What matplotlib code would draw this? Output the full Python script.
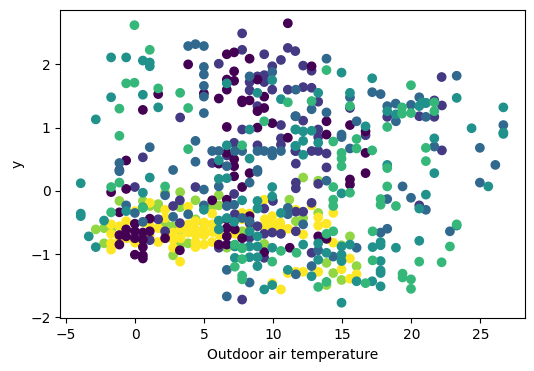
import matplotlib
matplotlib.use("Agg")
import matplotlib.pyplot as plt
import numpy as np

# one (x, y) list per colour level of the third variable
level_0 = [(11.06,2.65),(6.64,2.16),(7.17,2.19),(8.29,2.09),(3.84,2.00),(7.17,1.89),(6.64,1.76),(7.17,1.74),(6.64,1.60),(8.86,1.76),
(1.67,1.53),(4.98,1.54),(6.06,1.46),(9.35,1.49),(7.75,1.43),(8.29,1.43),(7.75,1.40),(0.56,1.28),(8.86,1.26),(9.35,1.31),
(6.64,1.01),(8.86,1.00),(9.93,1.07),(11.06,0.84),(6.64,0.60),(-0.65,0.48),(7.17,0.50),(6.06,0.43),(7.17,0.39),(12.78,1.97),
(13.86,1.10),(13.86,0.89),(15.56,1.04),(16.69,0.94),(16.69,0.60),(16.69,0.28),(15.56,0.18),(15.56,0.10),(13.26,-0.72),(13.86,-0.76),
(11.2,-0.90),(-1.74,-0.02),(-0.65,0.03),(-1.14,-0.34),(1.06,-0.44),(-0.02,-0.52),(-0.65,-0.61),(-1.14,-0.70),(-0.65,-0.72),(-1.14,-0.85),
(-0.02,-0.64),(-0.02,-0.75),(0.56,-0.66),(1.06,-0.64),(0.56,-0.77),(0.56,-0.89),(-0.02,-1.01),(0.56,-1.02),(0.56,-1.07),(2.17,-0.75),
(3.24,-0.94),(5.58,-0.15),(6.64,-0.14),(7.75,0.06),(8.29,0.28),(7.17,0.23),(6.64,-0.45),(6.64,-0.59),(6.64,-0.72),(7.22,-0.61),
(6.06,-0.85),(6.64,-0.85),(7.75,-0.75),(9.35,-0.97),(8.29,-0.40)]
level_1 = [(7.75,2.49),(7.75,2.23),(9.35,2.16),(11.06,2.26),(11.6,2.21),(6.06,2.01),(10.56,2.07),(9.93,1.97),(8.86,1.81),(9.35,1.83),
(9.35,1.72),(8.29,1.72),(8.29,1.59),(9.93,1.60),(11.06,1.60),(8.86,1.34),(3.26,1.16),(7.75,0.97),(10.56,1.04),(10.56,0.83),
(10.56,0.73),(7.17,0.76),(8.86,0.72),(6.64,0.56),(0.56,0.53),(5.58,0.44),(11.6,0.63),(-1.14,0.33),(12.17,1.98),(12.78,1.90),
(12.17,1.64),(12.78,1.63),(13.26,1.41),(12.17,1.11),(13.26,0.97),(13.26,0.85),(11.64,0.63),(12.78,0.63),(13.26,0.63),(13.86,0.59),
(11.64,0.43),(13.86,0.37),(16.69,0.88),(15.56,1.31),(18.26,1.17),(20.58,1.18),(21.67,1.17),(21.67,1.43),(22.22,1.35),(22.2,1.80),
(22.22,0.64),(11.64,0.13),(11.64,0.04),(13.26,0.11),(12.78,-0.19),(11.64,-0.33),(12.17,-0.33),(11.64,-0.64),(12.78,-0.98),(20.58,-0.23),
(-0.02,0.06),(4.37,0.06),(7.17,-0.05),(3.24,-0.15),(2.75,-0.24),(3.24,-0.51),(2.17,-0.64),(1.06,-0.78),(1.67,-0.45),(7.75,-1.72),
(8.29,-0.51),(8.86,-0.56),(9.35,-0.68),(9.93,-0.66),(10.56,-0.68),(9.35,-1.06),(8.29,-0.74),(6.06,-0.90),(9.98,-0.16),(9.35,-0.28),(7.22,-0.37)]
level_2 = [(3.84,2.29),(4.37,2.32),(4.98,2.29),(4.98,1.96),(4.98,1.84),(4.98,1.66),(4.98,1.49),(4.98,1.23),(8.29,1.81),(9.93,1.88),
(1.06,0.69),(-1.14,0.44),(4.37,0.79),(4.37,0.46),(5.58,0.63),(6.06,0.63),(7.22,0.63),(7.75,0.63),(8.86,0.63),(9.35,0.63),
(9.93,0.63),(9.93,0.56),(10.56,0.63),(6.64,0.39),(11.6,1.18),(2.75,0.33),(8.86,0.33),(13.86,2.09),(11.64,1.60),(15.56,1.48),
(17.17,1.56),(17.78,1.53),(18.26,1.34),(18.87,1.38),(19.98,1.36),(20.58,1.48),(21.06,1.39),(18.89,1.10),(21.06,1.17),(23.29,1.82),
(12.78,1.29),(13.86,1.24),(11.64,1.18),(16.04,1.10),(14.95,0.89),(14.95,0.85),(15.56,0.67),(21.67,0.70),(26.67,1.04),(24.97,0.68),
(26.09,0.41),(13.86,0.16),(19.37,0.07),(18.26,-0.13),(19.98,-0.11),(21.06,-0.30),(24.97,0.13),(22.8,-0.64),(18.26,-0.60),(17.78,-0.66),
(16.04,-0.90),(14.35,-1.04),(13.26,-0.94),(12.17,-0.53),(12.78,-1.19),(11.64,-1.32),(-1.14,0.31),(4.98,0.02),(2.17,-0.07),(6.06,0.07),
(8.29,0.13),(8.86,0.30),(-0.65,-0.23),(-0.02,-0.35),(0.56,-0.49),(2.75,-0.41),(3.84,-0.37),(4.98,-0.23),(6.64,-0.24),(7.17,-0.22),
(7.75,-0.43),(8.29,-0.48),(6.64,-1.25),(8.29,-1.45),(6.64,-1.67),(11.06,-0.27),(11.06,-0.37)]
level_3 = [(-1.74,2.11),(-0.65,2.11),(0.56,2.06),(1.06,2.03),(1.06,1.97),(-1.74,1.48),(0.56,1.52),(1.67,1.32),(-2.85,1.13),(6.64,1.70),
(9.93,1.75),(8.86,1.55),(10.56,1.45),(8.29,0.97),(6.64,0.72),(6.06,0.48),(8.29,0.51),(11.6,0.97),(11.6,0.71),(14.95,1.87),
(17.17,1.78),(13.26,1.55),(15.56,1.55),(18.26,1.26),(18.89,1.21),(20.58,1.34),(21.06,1.39),(20.8,1.40),(23.29,1.47),(26.67,1.32),
(24.37,0.99),(26.67,0.92),(26.67,0.90),(11.64,0.97),(12.17,0.94),(12.78,0.95),(12.17,0.79),(11.64,0.71),(13.26,0.76),(12.17,0.57),
(16.69,1.02),(21.67,0.83),(18.26,0.41),(21.67,0.28),(14.95,-0.04),(21.06,-0.06),(20.58,-0.28),(25.58,0.07),(23.29,-0.55),(20.58,-0.79),
(18.89,-0.90),(17.78,-0.81),(17.78,-0.86),(17.2,-0.89),(15.56,-0.85),(12.17,-0.85),(13.26,-0.83),(14.95,-0.88),(14.95,-1.01),(14.95,-1.11),
(13.26,-1.09),(17.78,-1.11),(17.78,-1.26),(17.78,-1.30),(12.78,-1.35),(16.04,-1.43),(17.17,-1.43),(17.78,-1.51),(14.95,-1.77),(13.86,-0.98),
(-3.94,0.12),(-3.94,-0.36),(-3.94,-0.40),(-3.36,-0.72),(-2.85,-0.89),(-2.25,-0.47),(1.06,0.21),(0.56,-0.03),(0.56,-0.26),(-0.65,-0.32),
(6.06,0.19),(6.64,0.20),(4.98,-0.30),(9.93,0.06),(9.93,-0.09),(7.75,-0.15),(8.86,-0.16),(8.86,-0.28),(10.56,-0.35),(6.06,-0.47),
(6.06,-0.61),(7.17,-0.49),(8.29,-0.64),(8.86,-0.72),(8.86,-0.88),(9.93,-0.90),(7.22,-1.06),(8.29,-0.88),(8.86,-1.05),(8.86,-1.19),
(11.06,-1.25),(9.93,-1.49),(9.35,-1.56),(7.75,-0.90),(8.29,-1.05),(7.22,-0.88),(6.64,-0.43)]
level_4 = [(-0.05,2.62),(1.06,2.23),(-0.65,1.70),(-0.05,1.71),(1.67,1.62),(3.26,1.55),(-1.14,1.30),(3.84,1.31),(-1.14,0.87),(3.84,0.66),
(9.35,1.10),(7.75,0.72),(11.06,1.40),(13.86,1.91),(19.98,1.67),(12.78,1.42),(15.56,1.34),(19.33,1.32),(19.33,1.22),(19.98,1.23),
(21.67,1.40),(21.67,1.26),(18.26,1.01),(14.35,0.78),(16.04,0.82),(16.04,0.67),(17.17,0.64),(14.95,0.60),(14.95,0.51),(14.95,0.39),
(21.06,0.68),(21.06,0.47),(18.26,0.36),(18.26,0.07),(14.35,0.06),(15.56,-0.03),(14.35,-0.14),(14.35,-0.24),(17.78,-0.13),(17.78,-0.22),
(18.89,-0.24),(22.8,-0.88),(17.2,-0.64),(13.86,-0.68),(14.35,-0.64),(11.69,-0.98),(17.2,-1.10),(20.58,-1.12),(22.2,-1.13),(19.37,-1.31),
(19.37,-1.37),(19.98,-1.40),(19.98,-1.55),(16.69,-1.46),(13.26,-1.52),(13.86,-1.44),(23.29,-0.53),(-1.74,0.06),(-1.14,0.13),(2.17,0.07),
(-1.74,-0.34),(7.22,-1.20),(7.75,-1.08),(7.75,-1.34),(7.75,-1.40),(10.56,-0.95),(9.93,-1.12),(7.22,-0.85),(7.75,-0.91),(0.56,-0.27)]
level_5 = [(12.17,0.21),(13.26,0.16),(15.56,-0.72),(14.95,-0.86),(13.26,-0.35),(12.17,-0.43),(11.64,-0.48),(13.86,-1.14),(14.35,-1.30),(16.04,-1.19),
(14.95,-1.41),(13.86,-1.49),(2.17,-0.03),(3.26,-0.02),(4.37,-0.15),(-1.14,-0.16),(0.56,-0.16),(1.06,-0.24),(1.67,-0.21),(1.67,-0.27),
(3.26,-0.26),(-2.85,-0.61),(-2.25,-0.59),(-2.25,-0.83),(2.17,-0.51),(2.75,-0.56),(3.24,-0.62),(3.84,-0.83),(3.24,-0.87),(2.75,-1.02),
(4.98,-0.51),(5.58,-0.24),(6.06,-0.07),(6.06,-0.23),(11.17,-0.14),(9.35,-0.84),(7.75,-0.64),(6.64,-0.90),(4.37,-0.45),(-1.74,-0.62)]
level_6 = [(14.35,-0.35),(13.26,-0.42),(13.26,-0.55),(13.86,-0.52),(12.17,-0.69),(14.35,-0.82),(15.56,-1.07),(14.95,-1.24),(16.04,-1.32),(15.56,-1.39),
(13.26,-1.28),(11.64,-1.28),(12.17,-1.28),(12.78,-0.23),(11.64,-0.30),(1.06,-0.19),(2.17,-0.30),(3.84,-0.25),(0.0,-0.32),(-0.65,-0.48),
(-1.14,-0.56),(-1.74,-0.53),(-1.74,-0.68),(-1.74,-0.83),(-1.74,-0.93),(0.0,-0.82),(1.67,-0.59),(1.67,-0.81),(2.17,-0.43),(2.75,-0.66),
(2.75,-0.77),(2.75,-0.90),(3.84,-0.66),(3.84,-0.53),(4.37,-0.48),(4.37,-0.61),(4.37,-0.81),(4.37,-0.89),(4.98,-0.61),(4.98,-0.85),
(5.58,-0.36),(5.58,-0.81),(3.26,-1.12),(9.35,-0.14),(7.75,-0.35),(8.29,-0.36),(9.93,-0.40),(9.93,-0.52),(10.56,-0.57),(9.35,-0.57),
(7.22,-0.68),(9.93,-1.46),(10.56,-1.56),(11.06,-1.30),(11.7,-1.30),(5.58,-0.53),(1.06,-0.72),(3.3,-0.6),(3.3,-0.75),(4.4,-0.7),
(5.0,-0.7),(5.6,-0.65),(2.2,-0.7),(0.6,-0.5),(-0.6,-0.75),(-1.14,-0.75),(1.06,-0.55),(7.75,-0.45),(8.3,-0.6),(9.4,-0.45),
(10.0,-0.6),(11.1,-0.6),(10.5,-0.5),(5.0,-0.5),(6.1,-0.7)]

x_label = "Outdoor air temperature"
y_label = "y"
x_ticks = [-5, 0, 5, 10, 15, 20, 25]
y_ticks = [-2, -1, 0, 1, 2]

# draw order of the levels (later levels lie on top)
groups = [(5, level_5), (6, level_6), (1, level_1), (0, level_0), (2, level_2), (3, level_3), (4, level_4)]
pts = np.array([p for _, g in groups for p in g])
col = np.array([lv for lv, g in groups for _ in g])

W, H = 534, 371
fig = plt.figure(figsize=(W / 100, H / 100), dpi=100)
ax = fig.add_axes([60.3 / W, 1 - 318.3 / H, (525.3 - 60.3) / W, (318.3 - 10) / H])
ax.scatter(pts[:, 0], pts[:, 1], c=col, cmap="viridis", vmin=0, vmax=6)
ax.set_xlim(-5.42, 28.26)
ax.set_ylim(-2.016, 2.86)
ax.set_xticks(x_ticks)
ax.set_yticks(y_ticks)
ax.set_xlabel(x_label)
ax.set_ylabel(y_label)
fig.savefig("out.png", dpi=100)
